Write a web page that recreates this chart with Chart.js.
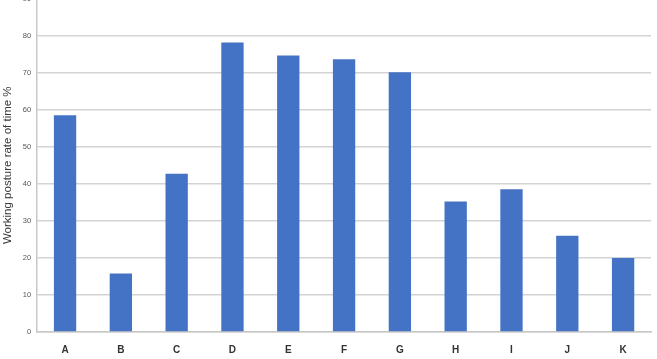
<!DOCTYPE html>
<html><head><meta charset="utf-8">
<script src="https://cdn.jsdelivr.net/npm/chart.js@4/dist/chart.umd.min.js"></script>
<style>
html,body{margin:0;padding:0;background:#fff;overflow:hidden;}
#wrap{position:absolute;left:0;top:-20px;width:657px;height:388px;}
</style></head>
<body>
<div id="wrap"><canvas id="c"></canvas></div>
<script>
const categories = ["A","B","C","D","E","F","G","H","I","J","K"];
const values = [58.5, 15.8, 42.7, 78.1, 74.6, 73.6, 70.1, 35.2, 38.5, 26.0, 20.0];
const yTicks = [0,10,20,30,40,50,60,70,80,90];
const yTitle = "Working posture rate of time %";

new Chart(document.getElementById('c'), {
  type: 'bar',
  data: { labels: categories, datasets: [{ data: values, backgroundColor: '#4472C4', borderWidth: 0,
    categoryPercentage: 1.0, barPercentage: 0.4 }] },
  options: {
    responsive: true, maintainAspectRatio: false, animation: false,
    layout: { padding: { top: 18.5, right: 6, left: 1, bottom: 0 } },
    plugins: { legend: { display: false }, tooltip: { enabled: false } },
    scales: {
      x: {
        grid: { display: false, drawTicks: false },
        border: { display: true, color: '#c8c8c8', width: 1.5 },
        ticks: { color: '#333', font: { family: 'Liberation Sans', size: 10, weight: 'bold' }, padding: 12 }
      },
      y: {
        min: 0, max: 90,
        afterBuildTicks: (s) => { s.ticks = yTicks.map(v => ({ value: v })); },
        grid: { color: '#d3d3d3', lineWidth: 1.5, drawTicks: false },
        border: { display: true, color: '#c8c8c8', width: 1.5 },
        ticks: { color: '#555', font: { family: 'Liberation Sans', size: 7.5 }, padding: 6 },
        title: { display: true, text: yTitle, color: '#3a3a3a', font: { family: 'Liberation Sans', size: 11.5 }, padding: { top: 0, bottom: 2 } }
      }
    }
  }
});
</script>
</body></html>
